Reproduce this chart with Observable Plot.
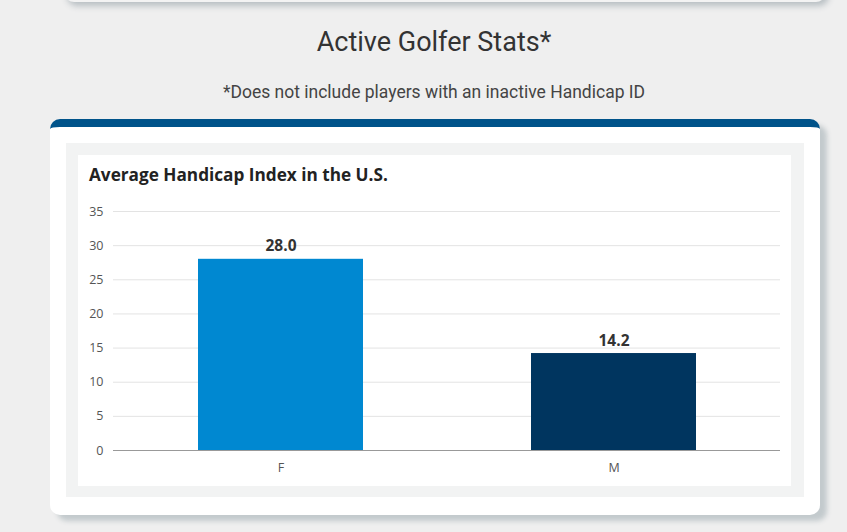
<!DOCTYPE html>
<html>
<head>
<meta charset="utf-8">
<script src="https://cdn.jsdelivr.net/npm/d3@7"></script>
<script src="https://cdn.jsdelivr.net/npm/@observablehq/plot@0.6"></script>
<style>
  html, body { margin: 0; padding: 0; }
  body { width: 847px; height: 532px; background: #efefef; position: relative; overflow: hidden; font-family: "Open Sans", sans-serif; }
  .topcard { position: absolute; left: 64px; top: -30px; width: 762px; height: 32px; background: #f3f3f3; border-radius: 10px; box-shadow: 3px 4px 6px #b8bfc3; }
  .title { position: absolute; left: 0; width: 868px; top: 26px; text-align: center; font-family: Roboto, sans-serif; font-size: 27px; color: #333; letter-spacing: 0px; }
  .subtitle { position: absolute; left: 0; width: 868px; top: 82px; text-align: center; font-family: Roboto, sans-serif; font-size: 17.5px; color: #444; }
  .card { position: absolute; left: 50px; top: 119px; width: 770px; height: 388px; background: #fff; border-top: 8px solid #00538a; border-radius: 10px; box-shadow: 7px 6px 5px #c3cacd; }
  .panel { position: absolute; left: 66px; top: 143px; width: 738px; height: 354px; background: #f2f3f3; }
  .inner { position: absolute; left: 78px; top: 155px; width: 713px; height: 331px; background: #fff; }
  .ctitle { position: absolute; left: 11px; top: 8px; font-family: "Open Sans", sans-serif; font-weight: 700; font-size: 17.2px; color: #222; }
  #chart { position: absolute; left: 0; top: 40px; }
</style>
</head>
<body>
<div class="topcard"></div>
<div class="title">Active Golfer Stats*</div>
<div class="subtitle">*Does not include players with an inactive Handicap ID</div>
<div class="card"></div>
<div class="panel"></div>
<div class="inner">
  <div class="ctitle">Average Handicap Index in the U.S.</div>
  <div id="chart"></div>
</div>
<script>
const genders = ["F", "M"];
const handicap = [28.0, 14.2];
const barColors = ["#0088d1", "#00355f"];
const yTicks = [0, 5, 10, 15, 20, 25, 30, 35];

const data = genders.map((g, i) => ({gender: g, value: handicap[i], color: barColors[i]}));

const chart = Plot.plot({
  width: 713,
  height: 291,
  marginLeft: 35,
  marginRight: 11,
  marginTop: 16,
  marginBottom: 36,
  style: {fontFamily: "Open Sans, sans-serif", fontSize: "12.5px", color: "#555", background: "transparent"},
  x: {domain: genders, paddingInner: 0.505, paddingOuter: 0.2525, label: null, tickSize: 0, tickPadding: 13},
  y: {domain: [0, 35], ticks: yTicks, label: null, tickSize: 0, tickPadding: 10},
  marks: [
    Plot.gridY(yTicks, {stroke: "#e3e3e3", strokeOpacity: 1}),
    Plot.barY(data, {x: "gender", y: "value", fill: "color"}),
    Plot.ruleY([0], {stroke: "#999"}),
    Plot.text(data, {x: "gender", y: "value", text: d => d.value.toFixed(1), dy: -13, fontWeight: "bold", fontSize: 15.5, fill: "#333"})
  ]
});
document.getElementById("chart").appendChild(chart);
</script>
</body>
</html>
